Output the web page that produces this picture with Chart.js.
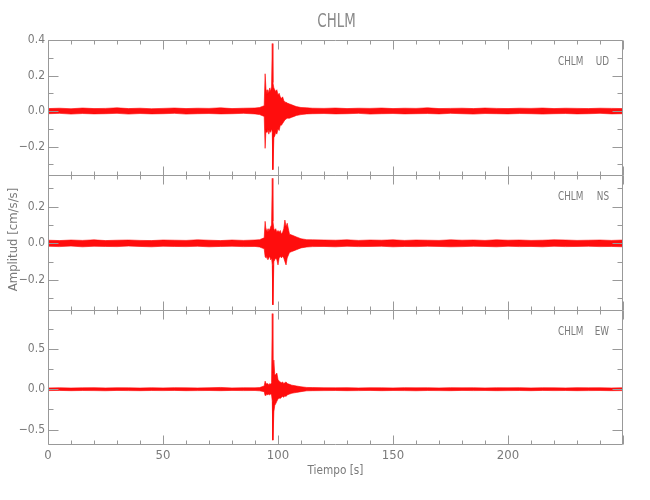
<!DOCTYPE html>
<html>
<head>
<meta charset="utf-8">
<script src="https://cdn.jsdelivr.net/npm/chart.js@4/dist/chart.umd.min.js"></script>
<style>
  body { margin: 0; background: #fff; }
</style>
</head>
<body>
<canvas id="chart" width="650" height="500"></canvas>
<script>
//Estación y componentes
const estacion = 'CHLM';
const componentes = ['UD', 'NS', 'EW'];

//Tiempos de muestreo de la envolvente (s)
const tiempo = [
    0, 5, 10, 15, 20, 25, 30, 35, 40, 45, 50, 55, 60, 65, 70, 75, 80, 85, 90,
    92, 94, 94.4, 94.8, 95.2, 95.6, 96, 96.4, 96.8, 97.2, 97.5, 97.8, 98.2, 98.6, 99, 99.5, 100, 100.5, 101, 101.5, 102, 102.5, 103, 103.5, 104, 105, 106, 107, 108, 110,
    112.5, 115, 120, 125, 130, 135, 140, 145, 150, 155, 160, 165, 170, 175, 180, 185, 190, 195, 200, 205, 210, 215, 220, 225, 230, 235, 240, 245, 250
];

//Envolvente superior / inferior de cada componente (cm/s/s)
const udSup = [
    0.014, 0.016, 0.013, 0.017, 0.014, 0.015, 0.018, 0.014, 0.016, 0.013, 0.015, 0.017, 0.014, 0.016, 0.015, 0.018, 0.014, 0.016, 0.017,
    0.02, 0.03, 0.21, 0.12, 0.09, 0.12, 0.10, 0.13, 0.11, 0.14, 0.38, 0.16, 0.13, 0.12, 0.11, 0.12, 0.09, 0.10, 0.08, 0.07, 0.08, 0.06, 0.05, 0.05, 0.045, 0.04, 0.035, 0.03, 0.025, 0.02,
    0.018, 0.016, 0.015, 0.017, 0.014, 0.016, 0.015, 0.017, 0.014, 0.016, 0.015, 0.018, 0.014, 0.015, 0.016, 0.014, 0.017, 0.015, 0.014, 0.016, 0.015, 0.017, 0.014, 0.016, 0.015, 0.014, 0.016, 0.015, 0.014
];
const udInf = [
    -0.015, -0.013, -0.017, -0.014, -0.016, -0.015, -0.013, -0.017, -0.014, -0.016, -0.015, -0.013, -0.017, -0.015, -0.014, -0.016, -0.015, -0.013, -0.016,
    -0.02, -0.03, -0.21, -0.10, -0.12, -0.10, -0.13, -0.11, -0.12, -0.10, -0.12, -0.33, -0.15, -0.14, -0.12, -0.13, -0.10, -0.11, -0.08, -0.08, -0.07, -0.06, -0.05, -0.045, -0.04, -0.04, -0.035, -0.03, -0.025, -0.02,
    -0.016, -0.015, -0.014, -0.016, -0.015, -0.013, -0.017, -0.015, -0.014, -0.016, -0.015, -0.014, -0.016, -0.013, -0.015, -0.017, -0.014, -0.015, -0.016, -0.014, -0.015, -0.017, -0.015, -0.014, -0.016, -0.015, -0.013, -0.016, -0.015
];
const nsSup = [
    0.017, 0.015, 0.018, 0.016, 0.019, 0.015, 0.017, 0.018, 0.016, 0.015, 0.018, 0.017, 0.016, 0.019, 0.017, 0.015, 0.018, 0.016, 0.018,
    0.02, 0.03, 0.12, 0.07, 0.08, 0.06, 0.08, 0.07, 0.09, 0.10, 0.355, 0.12, 0.08, 0.07, 0.08, 0.06, 0.07, 0.06, 0.07, 0.05, 0.06, 0.08, 0.127, 0.09, 0.11, 0.05, 0.045, 0.04, 0.035, 0.025,
    0.02, 0.019, 0.018, 0.017, 0.019, 0.016, 0.018, 0.017, 0.019, 0.016, 0.018, 0.017, 0.016, 0.019, 0.017, 0.018, 0.016, 0.019, 0.017, 0.018, 0.016, 0.017, 0.019, 0.018, 0.016, 0.017, 0.018, 0.016, 0.018
];
const nsInf = [
    -0.016, -0.018, -0.015, -0.019, -0.016, -0.017, -0.018, -0.015, -0.017, -0.019, -0.016, -0.017, -0.018, -0.016, -0.019, -0.017, -0.016, -0.018, -0.017,
    -0.02, -0.03, -0.073, -0.08, -0.07, -0.09, -0.08, -0.07, -0.09, -0.08, -0.12, -0.336, -0.10, -0.09, -0.08, -0.09, -0.118, -0.08, -0.07, -0.08, -0.07, -0.08, -0.10, -0.118, -0.08, -0.05, -0.045, -0.04, -0.035, -0.025,
    -0.02, -0.018, -0.017, -0.019, -0.016, -0.018, -0.017, -0.016, -0.019, -0.017, -0.018, -0.016, -0.017, -0.019, -0.018, -0.016, -0.017, -0.019, -0.016, -0.018, -0.017, -0.019, -0.016, -0.018, -0.017, -0.016, -0.018, -0.017, -0.019
];
const ewSup = [
    0.016, 0.018, 0.015, 0.017, 0.019, 0.016, 0.018, 0.017, 0.015, 0.018, 0.016, 0.019, 0.017, 0.016, 0.018, 0.022, 0.016, 0.018, 0.017,
    0.02, 0.04, 0.10, 0.07, 0.06, 0.07, 0.05, 0.07, 0.06, 0.08, 0.935, 0.20, 0.36, 0.18, 0.18, 0.20, 0.12, 0.10, 0.09, 0.08, 0.09, 0.07, 0.08, 0.09, 0.07, 0.06, 0.05, 0.045, 0.04, 0.03,
    0.022, 0.02, 0.018, 0.017, 0.019, 0.016, 0.018, 0.017, 0.016, 0.019, 0.017, 0.018, 0.016, 0.019, 0.017, 0.018, 0.016, 0.018, 0.017, 0.019, 0.016, 0.018, 0.017, 0.016, 0.019, 0.017, 0.018, 0.016, 0.018
];
const ewInf = [
    -0.017, -0.015, -0.018, -0.016, -0.017, -0.019, -0.015, -0.017, -0.018, -0.016, -0.017, -0.015, -0.018, -0.017, -0.016, -0.018, -0.015, -0.017, -0.016,
    -0.02, -0.03, -0.08, -0.07, -0.06, -0.07, -0.06, -0.07, -0.06, -0.07, -0.15, -0.63, -0.28, -0.20, -0.18, -0.15, -0.12, -0.11, -0.115, -0.10, -0.09, -0.10, -0.08, -0.09, -0.07, -0.06, -0.05, -0.045, -0.04, -0.03,
    -0.02, -0.018, -0.017, -0.016, -0.018, -0.017, -0.015, -0.018, -0.016, -0.017, -0.019, -0.016, -0.017, -0.018, -0.015, -0.017, -0.016, -0.018, -0.017, -0.016, -0.018, -0.015, -0.017, -0.016, -0.018, -0.017, -0.016, -0.018, -0.017
];

//Rangos y marcas de los ejes
const rangoX = [0, 250];
const ticksX = [0, 50, 100, 150, 200];
const rangoUD = [-0.36, 0.40];
const rangoNS = [-0.364, 0.373];
const rangoEW = [-0.69, 0.98];
const ticksUD = [-0.2, 0.0, 0.2, 0.4];
const ticksNS = [-0.2, 0.0, 0.2];
const ticksEW = [-0.5, 0.0, 0.5];

const fuente = "'Liberation Sans Narrow', 'DejaVu Sans Condensed', sans-serif";
const gris = '#7a7a7a';
const grisMarco = '#999999';
const rojo = '#ff0000';

//Paso de marcas menores por eje
const menores = { x: 10, yUD: 0.1, yNS: 0.1, yEW: 0.25 };
const paneles = ['yUD', 'yNS', 'yEW'];

function puntos(sup) {
    return tiempo.map((t, i) => ({ x: t, y: sup[i] }));
}

function banda(comp, sup, inf, eje) {
    return [{
        label: comp + ' sup',
        data: puntos(sup),
        yAxisID: eje,
        borderColor: rojo,
        borderWidth: 0.6,
        backgroundColor: 'rgba(255, 0, 0, 0.95)',
        fill: '+1',
        pointRadius: 0,
        tension: 0
    }, {
        label: comp + ' inf',
        data: puntos(inf),
        yAxisID: eje,
        borderColor: rojo,
        borderWidth: 0.6,
        fill: false,
        pointRadius: 0,
        tension: 0
    }];
}

function ejeY(rango, ticks, peso) {
    return {
        type: 'linear',
        position: 'left',
        stack: 'paneles',
        stackWeight: 1,
        weight: peso,
        min: rango[0],
        max: rango[1],
        grid: { display: false, drawTicks: false },
        border: { display: false },
        afterBuildTicks: s => { s.ticks = ticks.map(v => ({ value: v })); },
        afterFit: s => { s.width = 48; },
        ticks: {
            autoSkip: false,
            padding: 3,
            color: gris,
            font: { family: fuente, size: 12 },
            callback: v => v.toFixed(1).replace('-', '\u2212')
        }
    };
}

//Texto angosto (escala horizontal)
function texto(ctx, t, x, y, esc, alinear) {
    ctx.save();
    ctx.translate(x, y);
    ctx.scale(esc, 1);
    ctx.textAlign = alinear;
    ctx.fillText(t, 0, 0);
    ctx.restore();
}

//Marco de cada panel, marcas hacia adentro y textos
const marco = {
    id: 'marco',
    afterDatasetsDraw(chart) {
        const { ctx, chartArea: a, scales } = chart;
        const x = scales.x;
        const L = Math.round(a.left) + 0.5, R = Math.round(a.right) - 0.5;
        ctx.save();
        ctx.strokeStyle = grisMarco;
        ctx.lineWidth = 1;

        paneles.forEach((id, k) => {
            const s = scales[id];
            const T = Math.round(s.top) + 0.5, B = Math.round(s.bottom) - 0.5 + (k < 2 ? 1 : 0);
            ctx.beginPath();
            ctx.rect(L, T, R - L, B - T);

            //marcas en Y (izquierda y derecha)
            const paso = menores[id];
            for (let v = Math.ceil(s.min / paso) * paso; v <= s.max + 1e-9; v += paso) {
                const mayor = s.ticks.some(t => Math.abs(t.value - v) < 1e-6);
                const largo = mayor ? 10 : 5;
                const py = Math.round(s.getPixelForValue(v)) + 0.5;
                ctx.moveTo(L, py); ctx.lineTo(L + largo, py);
                ctx.moveTo(R, py); ctx.lineTo(R - largo, py);
            }

            //marcas en X (arriba y abajo)
            for (let v = x.min; v <= x.max; v += menores.x) {
                const mayor = v % 50 === 0;
                const largo = mayor ? 9 : 4;
                const px = Math.round(x.getPixelForValue(v)) + 0.5;
                ctx.moveTo(px, T); ctx.lineTo(px, T + largo);
                ctx.moveTo(px, B); ctx.lineTo(px, B - largo);
            }
            ctx.stroke();

            //rótulo del panel
            ctx.fillStyle = gris;
            ctx.font = '12px ' + fuente;
            ctx.textBaseline = 'middle';
            texto(ctx, estacion, 558, s.top + 21.5, 0.82, 'left');
            texto(ctx, componentes[k], 609, s.top + 21.5, 0.82, 'right');
        });

        //Título
        ctx.fillStyle = '#8a8a8a';
        ctx.textBaseline = 'middle';
        ctx.font = '19px ' + fuente;
        texto(ctx, estacion, (a.left + a.right) / 2 + 1, 22, 0.78, 'center');

        //Título eje X
        ctx.fillStyle = gris;
        ctx.font = '13px ' + fuente;
        texto(ctx, 'Tiempo [s]', (a.left + a.right) / 2, 471, 0.9, 'center');

        //Título eje Y
        ctx.translate(14, (a.top + a.bottom) / 2 - 3);
        ctx.rotate(-Math.PI / 2);
        ctx.textAlign = 'center';
        ctx.fillText('Amplitud [cm/s/s]', 0, 0);
        ctx.restore();
    }
};

let ctx = document.getElementById('chart');

let chart = new Chart(ctx, {
    type: 'line',
    data: {
        datasets: [
            ...banda('UD', udSup, udInf, 'yUD'),
            ...banda('NS', nsSup, nsInf, 'yNS'),
            ...banda('EW', ewSup, ewInf, 'yEW')
        ]
    },
    options: {
        responsive: false,
        animation: false,
        layout: {
            padding: { top: 40, right: 27, bottom: 0, left: 0 }
        },
        plugins: {
            legend: { display: false },
            tooltip: { enabled: false },
            title: { display: false }
        },
        scales: {
            x: {
                type: 'linear',
                position: 'bottom',
                min: rangoX[0],
                max: rangoX[1],
                grid: { display: false, drawTicks: false },
                border: { display: false },
                afterBuildTicks: s => { s.ticks = ticksX.map(v => ({ value: v })); },
                afterFit: s => { s.height = 55; },
                ticks: {
                    autoSkip: false,
                    maxRotation: 0,
                    padding: 3,
                    color: gris,
                    font: { family: fuente, size: 13 },
                    callback: v => String(v)
                }
            },
            yUD: ejeY(rangoUD, ticksUD, 3),
            yNS: ejeY(rangoNS, ticksNS, 2),
            yEW: ejeY(rangoEW, ticksEW, 1)
        }
    },
    plugins: [marco]
});
</script>
</body>
</html>
